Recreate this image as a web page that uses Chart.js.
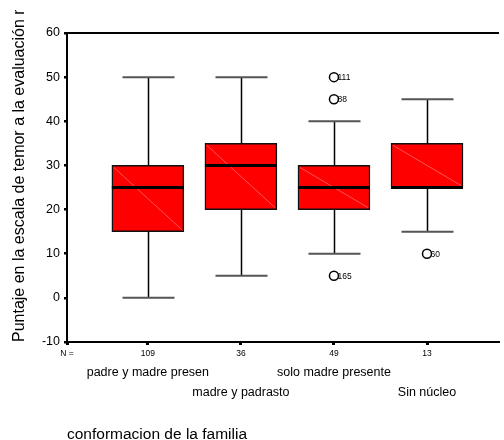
<!DOCTYPE html>
<html>
<head>
<meta charset="utf-8">
<script src="https://cdn.jsdelivr.net/npm/chart.js@4/dist/chart.umd.min.js"></script>
<style>
  html, body { margin: 0; padding: 0; background: #fff; }
  canvas { display: block; }
</style>
</head>
<body>
<canvas id="chart" width="504" height="440"></canvas>
<script>
// Family groups and their sample sizes
const groups = ['padre y madre presen', 'madre y padrasto', 'solo madre presente', 'Sin núcleo'];
const counts = ['109', '36', '49', '13'];

// Five-number summaries per group
const whiskerLow  = [0, 5, 10, 15];
const q1          = [15, 20, 20, 25];
const median      = [25, 30, 25, 25];
const q3          = [30, 35, 30, 35];
const whiskerHigh = [50, 50, 40, 45];

// Outlying cases: group position (1-based), score and case id
const outlierGroup = [3, 3, 3, 4];
const outlierValue = [50, 45, 5, 10];
const outlierId    = ['111', '88', '165', '60'];

const yTicks = [-10, 0, 10, 20, 30, 40, 50, 60];

const yTitle = 'Puntaje en la escala de temor a la evaluación negativa';
const xTitle = 'conformacion de la familia';

const FONT = "'Liberation Sans', Arial, Helvetica, sans-serif";
const X_MIN = 0.131;
const X_MAX = 4.763;

// Whiskers, caps, medians and outlier ids drawn around the library's bars/points
const boxParts = {
  id: 'boxParts',
  beforeDatasetsDraw(chart) {
    const { ctx, scales: { x, y } } = chart;
    ctx.save();
    groups.forEach((g, i) => {
      const px = Math.round(x.getPixelForValue(i + 1)) + 0.5;
      const yl = y.getPixelForValue(whiskerLow[i]);
      const yh = y.getPixelForValue(whiskerHigh[i]);
      ctx.strokeStyle = '#000';
      ctx.lineWidth = 1.5;
      ctx.beginPath();
      ctx.moveTo(px, yh);
      ctx.lineTo(px, yl);
      ctx.stroke();
      ctx.strokeStyle = '#555';
      ctx.lineWidth = 2;
      [yl, yh].forEach(yy => {
        ctx.beginPath();
        ctx.moveTo(px - 26, yy);
        ctx.lineTo(px + 26, yy);
        ctx.stroke();
      });
    });
    ctx.restore();
  },
  afterDatasetsDraw(chart) {
    const { ctx, scales: { x, y } } = chart;
    const bars = chart.getDatasetMeta(0).data;
    ctx.save();
    bars.forEach((bar, i) => {
      const { x: cx, width } = bar.getProps(['x', 'width'], true);
      const left = cx - width / 2;
      const right = cx + width / 2;
      const top = y.getPixelForValue(q3[i]);
      const bottom = y.getPixelForValue(q1[i]);
      // faint sheen diagonal across the box
      ctx.strokeStyle = 'rgba(255,140,140,0.6)';
      ctx.lineWidth = 1;
      ctx.beginPath();
      ctx.moveTo(left + 2, top + 2);
      ctx.lineTo(right - 2, bottom - 2);
      ctx.stroke();
      // median
      const my = y.getPixelForValue(median[i]);
      ctx.strokeStyle = '#000';
      ctx.lineWidth = 3;
      ctx.beginPath();
      ctx.moveTo(left, my);
      ctx.lineTo(right, my);
      ctx.stroke();
    });
    ctx.font = `8.5px ${FONT}`;
    ctx.fillStyle = '#000';
    ctx.textAlign = 'left';
    ctx.textBaseline = 'middle';
    outlierValue.forEach((v, i) => {
      ctx.fillText(outlierId[i], x.getPixelForValue(outlierGroup[i]) + 3.5, y.getPixelForValue(v) + 0.5);
    });
    ctx.restore();
  },
  afterDraw(chart) {
    // vertical axis title, running up from the bottom of the plot frame
    const { ctx, scales: { y } } = chart;
    ctx.save();
    ctx.beginPath();
    ctx.rect(0, 10, 60, 440);
    ctx.clip();
    ctx.translate(19.5, y.bottom);
    ctx.rotate(-Math.PI / 2);
    ctx.font = `16px ${FONT}`;
    ctx.fillStyle = '#000';
    ctx.textAlign = 'left';
    ctx.textBaseline = 'middle';
    ctx.fillText(yTitle, 0, 0);
    ctx.restore();
  }
};

new Chart(document.getElementById('chart'), {
  type: 'bar',
  data: {
    datasets: [
      {
        type: 'bar',
        data: groups.map((g, i) => ({ x: i + 1, y: [q1[i], q3[i]] })),
        backgroundColor: '#ff0000',
        borderColor: '#111',
        borderWidth: 1.5,
        borderSkipped: false,
        barThickness: 72
      },
      {
        type: 'scatter',
        data: outlierValue.map((v, i) => ({ x: outlierGroup[i], y: v })),
        pointRadius: 4.5,
        pointBackgroundColor: '#fff',
        pointBorderColor: '#000',
        pointBorderWidth: 1.5
      }
    ]
  },
  options: {
    responsive: false,
    animation: false,
    events: [],
    layout: { padding: 0 },
    plugins: { legend: { display: false }, tooltip: { enabled: false } },
    scales: {
      x: {
        type: 'linear', position: 'bottom', min: X_MIN, max: X_MAX, offset: false, weight: 0,
        afterBuildTicks: s => { s.ticks = [X_MIN, 1, 2, 3, 4].map(v => ({ value: v })); },
        ticks: {
          autoSkip: false, maxRotation: 0, padding: 4, color: '#000',
          font: { family: FONT, size: 8.5 },
          callback: (v, idx) => idx === 0 ? 'N =' : counts[idx - 1]
        },
        grid: { display: true, drawOnChartArea: false, drawTicks: true, tickLength: 3, lineWidth: 3, color: '#000', offset: false },
        border: { display: true, color: '#000', width: 2 },
        afterFit: s => { s.height = 17; }
      },
      xCat: {
        type: 'linear', position: 'bottom', min: X_MIN, max: X_MAX, offset: false, weight: 1,
        afterBuildTicks: s => { s.ticks = groups.map((g, i) => ({ value: i + 1 })); },
        ticks: {
          autoSkip: false, maxRotation: 0, padding: 4, color: '#000',
          font: { family: FONT, size: 12.5, lineHeight: 1.6 },
          callback: (v, idx) => idx % 2 === 0 ? groups[idx] : ['', groups[idx]]
        },
        grid: { display: false, drawTicks: false },
        border: { display: false },
        title: {
          display: true, text: xTitle, align: 'start', color: '#000',
          font: { family: FONT, size: 15.5, lineHeight: 1 },
          padding: { top: 0, bottom: -2 }
        },
        afterFit: s => { s.height = 81; }
      },
      x2: {
        type: 'linear', position: 'top', min: X_MIN, max: X_MAX, offset: false,
        ticks: { display: false },
        grid: { display: false, drawTicks: false },
        border: { display: true, color: '#000', width: 2 },
        afterFit: s => { s.height = 33; }
      },
      y: {
        type: 'linear', min: -10, max: 60,
        afterBuildTicks: s => { s.ticks = yTicks.map(v => ({ value: v })); },
        ticks: { padding: 4, color: '#000', font: { family: FONT, size: 12.5 } },
        grid: { display: true, drawOnChartArea: false, drawTicks: true, tickLength: 3, lineWidth: 2.5, color: '#000' },
        border: { display: true, color: '#000', width: 2 },
        afterFit: s => { s.width = 67; }
      }
    }
  },
  plugins: [boxParts]
});
</script>
</body>
</html>
